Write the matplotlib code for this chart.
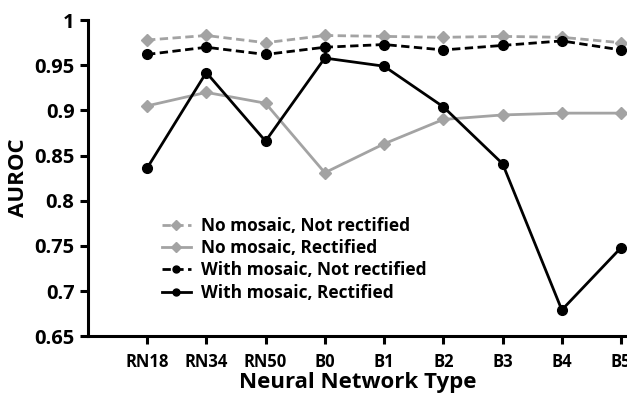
import matplotlib
matplotlib.use("Agg")
import matplotlib.pyplot as plt

networks = ["RN18", "RN34", "RN50", "B0", "B1", "B2", "B3", "B4", "B5"]
no_mosaic_not_rect = [0.978, 0.983, 0.975, 0.983, 0.982, 0.981, 0.982, 0.981, 0.975]
no_mosaic_rect = [0.905, 0.920, 0.908, 0.831, 0.863, 0.890, 0.895, 0.897, 0.897]
mosaic_not_rect = [0.962, 0.970, 0.962, 0.970, 0.973, 0.967, 0.972, 0.977, 0.967]
mosaic_rect = [0.836, 0.942, 0.866, 0.958, 0.949, 0.904, 0.841, 0.679, 0.748]

yticks = [0.65, 0.7, 0.75, 0.8, 0.85, 0.9, 0.95, 1]
ytick_labels = ["0.65", "0.7", "0.75", "0.8", "0.85", "0.9", "0.95", "1"]

plt.rcParams['font.family'] = ['Open Sans', 'DejaVu Sans']
plt.rcParams['font.weight'] = 'bold'

gray = "#a3a3a3"
fig = plt.figure(figsize=(6.27, 3.95), dpi=100)
ax = fig.add_axes([0.140, 0.149, 0.86, 0.800])

x = list(range(len(networks)))
ax.plot(x, no_mosaic_not_rect, color=gray, ls=(0, (3, 1.6)), lw=2, marker="D", ms=6,
        label="No mosaic, Not rectified")
ax.plot(x, no_mosaic_rect, color=gray, lw=2, marker="D", ms=6,
        label="No mosaic, Rectified")
ax.plot(x, mosaic_not_rect, color="black", ls=(0, (3, 1.6)), lw=2, marker="o", ms=7,
        label="With mosaic, Not rectified")
ax.plot(x, mosaic_rect, color="black", lw=2, marker="o", ms=7,
        label="With mosaic, Rectified")

ax.set_xlim(-1, 8.1)
ax.set_ylim(0.65, 1)
ax.set_xticks(x)
ax.set_xticklabels(networks, fontsize=12, fontweight="bold")
ax.set_yticks(yticks)
ax.set_yticklabels(ytick_labels, fontsize=14.5, fontweight="bold")

for side in ["top", "right"]:
    ax.spines[side].set_visible(False)
for side in ["left", "bottom"]:
    ax.spines[side].set_linewidth(2.2)
ax.tick_params(direction="out", width=2.2, length=6)
ax.tick_params(axis="x", pad=6)

ax.set_xlabel("Neural Network Type", fontsize=16, fontweight="bold", labelpad=1)
ax.set_ylabel("AUROC", fontsize=16, fontweight="bold", labelpad=4)

leg = ax.legend(loc="upper left", bbox_to_anchor=(0.124, 0.40), frameon=False,
                fontsize=12.5, handlelength=1.7, handletextpad=0.55,
                labelspacing=0.25, borderaxespad=0)
for line in leg.get_lines():
    line.set_markersize(5)
for t in leg.get_texts():
    t.set_fontweight("bold")

fig.savefig("out.png", dpi=100)
